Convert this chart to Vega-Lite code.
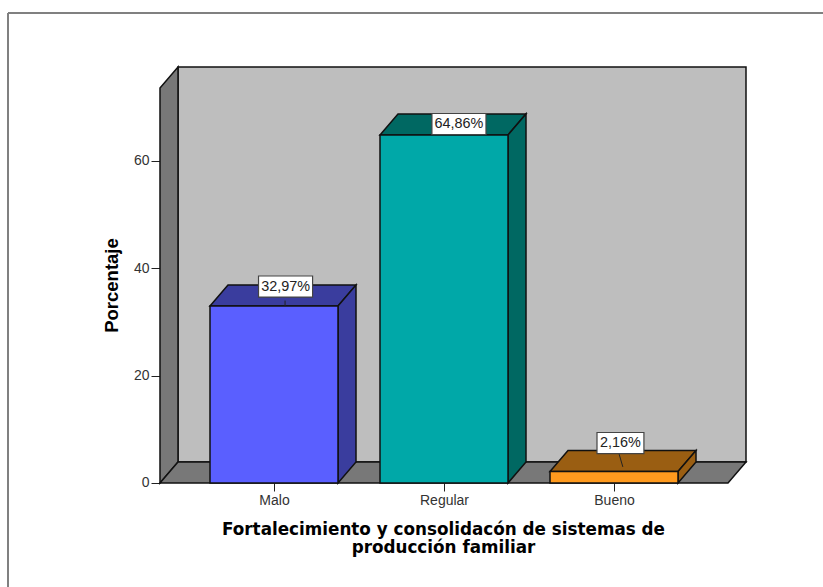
{
  "$schema": "https://vega.github.io/schema/vega-lite/v6.json",
  "width": 815,
  "height": 574,
  "autosize": "none",
  "padding": {"left": 8, "top": 13, "right": 0, "bottom": 0},
  "background": "white",
  "view": {"stroke": null},
  "datasets": {
    "bars": [
      {"category": "Malo", "pos": 1, "value": 32.97, "label": "32,97%"},
      {"category": "Regular", "pos": 2, "value": 64.86, "label": "64,86%"},
      {"category": "Bueno", "pos": 3, "value": 2.16, "label": "2,16%"}
    ],
    "one": [{"part": "frame"}],
    "edges": [{"k": 0}, {"k": 1}],
    "corners": [{"k": 0}, {"k": 1}, {"k": 2}, {"k": 3}]
  },
  "layer": [
    {
      "data": {"name": "one"},
      "mark": {"type": "rule", "stroke": "#808080", "strokeWidth": 2},
      "encoding": {"x": {"datum": -0.5647, "type": "quantitative", "scale": {"domain": [-0.5647, 4.2294], "nice": false, "zero": false},
          "axis": {"values": [1, 2, 3], "labelExpr": "['','Malo','Regular','Bueno'][datum.value]", "grid": false, "domain": false, "offset": -104, "tickColor": "#222222", "tickSize": 8, "labelFontSize": 14, "labelFont": "Liberation Sans", "labelColor": "#333333", "labelPadding": 2,
            "title": ["Fortalecimiento y consolidacón de sistemas de", "producción familiar"], "titleFont": "DejaVu Sans", "titleFontSize": 16.8, "titleFontWeight": "bold", "titleColor": "#000000", "titleLineHeight": 18, "titleX": 435, "titleY": 38, "titleAnchor": "middle", "titleBaseline": "top"}}}
    },
    {
      "data": {"name": "one"},
      "mark": {"type": "rule", "stroke": "#808080", "strokeWidth": 2},
      "encoding": {"y": {"datum": 87.572, "type": "quantitative", "scale": {"domain": [-19.378, 87.572], "nice": false, "zero": false},
          "axis": {"values": [0, 20, 40, 60], "grid": false, "domain": false, "offset": -152, "tickColor": "#222222", "tickSize": 9, "labelFontSize": 14, "labelFont": "Liberation Sans", "labelColor": "#333333", "labelPadding": 2,
            "title": "Porcentaje", "titleFont": "Liberation Sans", "titleFontSize": 18.5, "titleFontWeight": "bold", "titleColor": "#000000", "titleX": -39, "titleY": 272, "titleAnchor": "middle"}}}
    },
    {
      "data": {"name": "one"},
      "transform": [
        {"calculate": "0.43529", "as": "x0"}, {"calculate": "3.77647", "as": "x1"},
        {"calculate": "3.913", "as": "y0"}, {"calculate": "77.513", "as": "y1"}
      ],
      "mark": {"type": "rect", "fill": "#BEBEBE", "stroke": "#111111", "strokeWidth": 1.5},
      "encoding": {
        "x": {"field": "x0", "type": "quantitative"},
        "x2": {"field": "x1"},
        "y": {"field": "y0", "type": "quantitative"},
        "y2": {"field": "y1"}
      }
    },
    {
      "data": {"name": "edges"},
      "transform": [
        {"calculate": "[0.32941, 0.43529][datum.k]", "as": "vx"},
        {"calculate": "[73.6, 77.513][datum.k]", "as": "vy"},
        {"calculate": "[0, 3.913][datum.k]", "as": "vy2"}
      ],
      "mark": {"type": "area", "fill": "#787878", "stroke": "#111111", "strokeWidth": 1.5},
      "encoding": {
        "x": {"field": "vx", "type": "quantitative"},
        "y": {"field": "vy", "type": "quantitative", "stack": false},
        "y2": {"field": "vy2"}
      }
    },
    {
      "data": {"name": "corners"},
      "transform": [
        {"calculate": "[0.32941, 0.43529, 3.67059, 3.77647][datum.k]", "as": "vx"},
        {"calculate": "[0, 3.913, 3.913, 3.913][datum.k]", "as": "vy"},
        {"calculate": "[0, 0, 0, 3.913][datum.k]", "as": "vy2"}
      ],
      "mark": {"type": "area", "fill": "#787878", "stroke": "#111111", "strokeWidth": 1.5},
      "encoding": {
        "x": {"field": "vx", "type": "quantitative"},
        "y": {"field": "vy", "type": "quantitative", "stack": false},
        "y2": {"field": "vy2"}
      }
    },
    {
      "data": {"name": "bars"},
      "transform": [
        {"calculate": "[0, 1, 2, 3]", "as": "k"},
        {"flatten": ["k"]},
        {"calculate": "datum.pos + [-0.37647, -0.27059, 0.37647, 0.48235][datum.k]", "as": "vx"},
        {"calculate": "datum.value + [0, 3.913, 3.913, 3.913][datum.k]", "as": "vy"},
        {"calculate": "datum.value + [0, 0, 0, 3.913][datum.k]", "as": "vy2"}
      ],
      "mark": {"type": "area", "stroke": "#111111", "strokeWidth": 1.5},
      "encoding": {
        "x": {"field": "vx", "type": "quantitative"},
        "y": {"field": "vy", "type": "quantitative", "stack": false},
        "y2": {"field": "vy2"},
        "fill": {"field": "category", "type": "nominal", "legend": null, "scale": {"domain": ["Malo", "Regular", "Bueno"], "range": ["#3A3D9E", "#006862", "#9A5E12"]}}
      }
    },
    {
      "data": {"name": "bars"},
      "transform": [
        {"calculate": "[0, 1]", "as": "k"},
        {"flatten": ["k"]},
        {"calculate": "datum.pos + [0.37647, 0.48235][datum.k]", "as": "vx"},
        {"calculate": "datum.value + [0, 3.913][datum.k]", "as": "vy"},
        {"calculate": "[0, 3.913][datum.k]", "as": "vy2"}
      ],
      "mark": {"type": "area", "stroke": "#111111", "strokeWidth": 1.5},
      "encoding": {
        "x": {"field": "vx", "type": "quantitative"},
        "y": {"field": "vy", "type": "quantitative", "stack": false},
        "y2": {"field": "vy2"},
        "fill": {"field": "category", "type": "nominal", "legend": null, "scale": {"domain": ["Malo", "Regular", "Bueno"], "range": ["#3A3D9E", "#006862", "#9A5E12"]}}
      }
    },
    {
      "data": {"name": "bars"},
      "transform": [
        {"calculate": "datum.pos - 0.37647", "as": "x0"},
        {"calculate": "datum.pos + 0.37647", "as": "x1"},
        {"calculate": "0", "as": "base"}
      ],
      "mark": {"type": "rect", "stroke": "#111111", "strokeWidth": 1.5},
      "encoding": {
        "x": {"field": "x0", "type": "quantitative"},
        "x2": {"field": "x1"},
        "y": {"field": "value", "type": "quantitative"},
        "y2": {"field": "base"},
        "color": {"field": "category", "type": "nominal", "legend": null, "scale": {"domain": ["Malo", "Regular", "Bueno"], "range": ["#5A5FFF", "#00A8A8", "#FF9A1E"]}}
      }
    },
    {
      "data": {"name": "bars"},
      "transform": [
        {"filter": "datum.category !== 'Regular'"},
        {"calculate": "datum.pos + ({'Malo': 0.065, 'Bueno': 0.03})[datum.category]", "as": "lx"},
        {"calculate": "datum.pos + ({'Malo': 0.065, 'Bueno': 0.052})[datum.category]", "as": "lx2"},
        {"calculate": "({'Malo': 34, 'Bueno': 5.4})[datum.category]", "as": "ly"},
        {"calculate": "({'Malo': 32.97, 'Bueno': 3})[datum.category]", "as": "ly2"}
      ],
      "mark": {"type": "rule", "stroke": "#222222", "strokeWidth": 1},
      "encoding": {
        "x": {"field": "lx", "type": "quantitative"},
        "x2": {"field": "lx2"},
        "y": {"field": "ly", "type": "quantitative"},
        "y2": {"field": "ly2"}
      }
    },
    {
      "data": {"name": "bars"},
      "transform": [
        {"calculate": "datum.pos + ({'Malo': 0.068, 'Regular': 0.088, 'Bueno': 0.038})[datum.category]", "as": "cx"},
        {"calculate": "({'Malo': 36.61, 'Regular': 66.89, 'Bueno': 7.45})[datum.category]", "as": "cy"},
        {"calculate": "datum.cx - ({'Malo': 0.159, 'Regular': 0.159, 'Bueno': 0.138})[datum.category]", "as": "bx0"},
        {"calculate": "datum.cx + ({'Malo': 0.159, 'Regular': 0.159, 'Bueno': 0.138})[datum.category]", "as": "bx1"},
        {"calculate": "datum.cy - 1.96", "as": "by0"},
        {"calculate": "datum.cy + 1.96", "as": "by1"}
      ],
      "mark": {"type": "rect", "fill": "white", "stroke": "#444444", "strokeWidth": 1.2},
      "encoding": {
        "x": {"field": "bx0", "type": "quantitative"},
        "x2": {"field": "bx1"},
        "y": {"field": "by0", "type": "quantitative"},
        "y2": {"field": "by1"}
      }
    },
    {
      "data": {"name": "bars"},
      "transform": [
        {"calculate": "datum.pos + ({'Malo': 0.068, 'Regular': 0.088, 'Bueno': 0.038})[datum.category]", "as": "cx"},
        {"calculate": "({'Malo': 36.61, 'Regular': 66.89, 'Bueno': 7.45})[datum.category]", "as": "cy"}
      ],
      "mark": {"type": "text", "font": "Liberation Sans", "fontSize": 14.4, "fill": "#222222", "align": "center", "baseline": "middle"},
      "encoding": {
        "x": {"field": "cx", "type": "quantitative"},
        "y": {"field": "cy", "type": "quantitative"},
        "text": {"field": "label", "type": "nominal"}
      }
    }
  ],
  "resolve": {"scale": {"color": "independent", "fill": "independent"}}
}
